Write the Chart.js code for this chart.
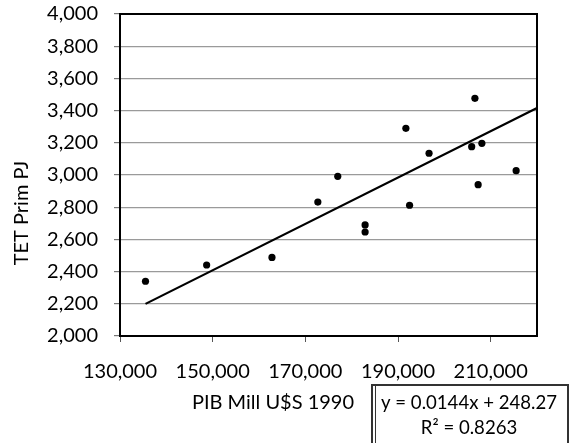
<!DOCTYPE html>
<html>
<head>
<meta charset="utf-8">
<script src="https://cdn.jsdelivr.net/npm/chart.js@4/dist/chart.umd.min.js"></script>
<style>
  html, body { margin: 0; padding: 0; background: #fff; }
  #wrap { width: 573px; height: 443px; position: relative; }
</style>
</head>
<body>
<div id="wrap"><canvas id="chart"></canvas></div>
<script>
// values
const pib = [135500, 148700, 162800, 172700, 177000, 182900, 182900, 191700, 192500, 196700, 205900, 206600, 207300, 208100, 215500];
const tet = [2340, 2441, 2488, 2832, 2992, 2690, 2646, 3290, 2812, 3135, 3176, 3476, 2940, 3197, 3027];
const slope = 0.0144;
const intercept = 248.27;
const rSquared = '0.8263';
const xMin = 130000, xMax = 220000;
const xTicks = [130000, 150000, 170000, 190000, 210000];
const yMin = 2000, yMax = 4000, yStep = 200;
const xTitle = 'PIB Mill U$S 1990';
const yTitle = 'TET Prim PJ';

const FONT = 'Lato, "Open Sans", sans-serif';
const fontSize = 20;

//trendline from the equation shown on the chart
const trendX = [Math.min(...pib), xMax];
const trend = trendX.map(x => ({x: x, y: slope * x + intercept}));

//frame, axis titles and the equation box
const extras = {
  id: 'extras',
  afterDraw(chart) {
    const ctx = chart.ctx;
    const a = chart.chartArea;
    ctx.save();
    ctx.strokeStyle = '#000';
    ctx.lineWidth = 2;
    ctx.strokeRect(a.left, a.top, a.right - a.left, a.bottom - a.top);

    ctx.fillStyle = '#000';
    ctx.font = fontSize + 'px ' + FONT;
    ctx.textAlign = 'center';
    ctx.textBaseline = 'middle';
    ctx.fillText(xTitle, 273, 403);

    ctx.save();
    ctx.translate(22, 213);
    ctx.rotate(-Math.PI / 2);
    ctx.fillText(yTitle, 0, 0);
    ctx.restore();

    // equation box
    ctx.fillStyle = '#fff';
    ctx.fillRect(372, 384, 196, 70);
    ctx.strokeStyle = '#333';
    ctx.lineWidth = 2;
    ctx.strokeRect(372, 385, 196, 70);
    ctx.lineWidth = 1;
    ctx.beginPath();
    ctx.moveTo(375.5, 386);
    ctx.lineTo(375.5, 450);
    ctx.stroke();
    ctx.fillStyle = '#000';
    ctx.font = '18.6px ' + FONT;
    ctx.fillText('y = ' + slope + 'x + ' + intercept, 469, 403);
    ctx.fillText('R\u00b2 = ' + rSquared, 469, 428);
    ctx.restore();
  }
};

new Chart(document.getElementById('chart').getContext('2d'), {
  type: 'scatter',
  data: {
    datasets: [{
      label: 'TET',
      data: pib.map((x, i) => ({x: x, y: tet[i]})),
      backgroundColor: '#000',
      borderWidth: 0,
      pointRadius: 3.6,
      order: 1
    }, {
      label: 'Trend',
      type: 'line',
      data: trend,
      showLine: true,
      borderColor: '#000',
      borderWidth: 2.2,
      pointRadius: 0,
      fill: false,
      order: 2
    }]
  },
  options: {
    responsive: true,
    maintainAspectRatio: false,
    animation: false,
    events: [],
    layout: { padding: { top: 14, right: 36, left: 0, bottom: 0 } },
    plugins: { legend: { display: false }, tooltip: { enabled: false } },
    scales: {
      x: {
        type: 'linear',
        min: xMin, max: xMax,
        afterFit: s => { s.height = 107; s.paddingLeft = 0; s.paddingRight = 0; },
        afterBuildTicks: s => { s.ticks = xTicks.map(v => ({value: v})); },
        border: { display: false },
        grid: { drawOnChartArea: false, drawTicks: true, tickLength: 6, color: '#555', tickColor: '#555' },
        ticks: {
          autoSkip: false, padding: 18, maxRotation: 0,
          color: '#000', font: { family: FONT, size: fontSize },
          callback: v => v.toLocaleString('en-US')
        }
      },
      y: {
        min: yMin, max: yMax,
        afterFit: s => { s.width = 120; s.paddingTop = 0; s.paddingBottom = 0; },
        border: { display: false },
        grid: { color: '#9a9a9a', lineWidth: 1.2, tickLength: 6, tickColor: '#777' },
        ticks: {
          stepSize: yStep, padding: 16,
          color: '#000', font: { family: FONT, size: fontSize },
          callback: v => v.toLocaleString('en-US')
        }
      }
    }
  },
  plugins: [extras]
});
</script>
</body>
</html>
